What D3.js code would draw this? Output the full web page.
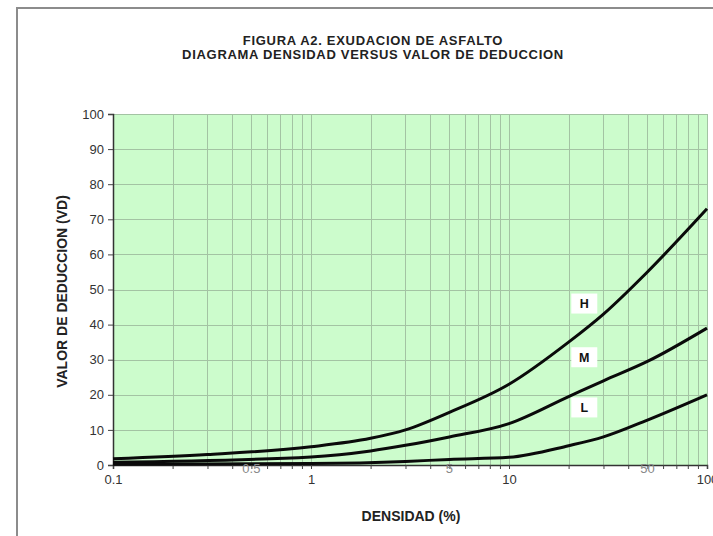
<!DOCTYPE html>
<html>
<head>
<meta charset="utf-8">
<script src="https://cdn.jsdelivr.net/npm/d3@7"></script>
<style>
  html, body { margin: 0; padding: 0; background: #fff; }
  svg { display: block; font-family: "Liberation Sans", Arial, sans-serif; }
</style>
</head>
<body>
<svg id="chart" width="713" height="536"></svg>
<script>
// Density (%) vs deduct value curves for high / medium / low severity
const densH = [0.1, 0.3, 1, 2, 3, 5, 10, 20, 30, 50, 100];
const valH  = [1.8, 3.0, 5.2, 7.6, 10, 15, 23, 35, 43, 55, 73];

const densM = [0.1, 1, 2, 3, 5, 10, 20, 30, 50, 100];
const valM  = [0.8, 2.3, 4, 5.6, 8, 11.8, 19.5, 24, 29.5, 39];

const densL = [0.1, 1, 3, 5, 10, 20, 30, 50, 100];
const valL  = [0.2, 0.4, 1, 1.6, 2.2, 5.5, 8, 12.8, 20];

const seriesNames = ["H", "M", "L"];
// where each severity tag sits (density, value)
const tagDens = [24, 24, 24];
const tagVal  = [46, 30.7, 16.4];

const yTicks = [0, 10, 20, 30, 40, 50, 60, 70, 80, 90, 100];
const xMajorTicks = [0.1, 1, 10, 100];
const xMidLabels = [0.5, 5, 50];

const titleLines = ["FIGURA A2. EXUDACION DE ASFALTO", "DIAGRAMA DENSIDAD VERSUS VALOR DE DEDUCCION"];
const yTitle = "VALOR DE DEDUCCION  (VD)";
const xTitle = "DENSIDAD  (%)";

const svg = d3.select("#chart");
const W = 713, H = 536;
const m = { left: 113, right: 6, top: 114, bottom: 71 };
const FONT = "'Liberation Sans', Arial, sans-serif";

// outer frame
svg.append("rect")
  .attr("x", 17).attr("y", 8)
  .attr("width", W + 20).attr("height", H + 20)
  .attr("fill", "none").attr("stroke", "#8c8c8c").attr("stroke-width", 2);

const x = d3.scaleLog().domain([0.1, 100]).range([m.left, W - m.right]);
const y = d3.scaleLinear().domain([0, 100]).range([H - m.bottom, m.top]);

// plot background
svg.append("rect")
  .attr("x", x(0.1)).attr("y", y(100))
  .attr("width", x(100) - x(0.1)).attr("height", y(0) - y(100))
  .attr("fill", "#ccfccc");

// grid lines
const logGrid = [];
[0.1, 1, 10].forEach(d => { for (let k = 1; k <= 10; k++) logGrid.push(+(d * k).toPrecision(3)); });
const gridX = [...new Set(logGrid)];
const grid = svg.append("g").attr("stroke", "#a3c3a3").attr("stroke-width", 1);
grid.selectAll("line.v").data(gridX).join("line")
  .attr("x1", d => Math.round(x(d)) + 0.5).attr("x2", d => Math.round(x(d)) + 0.5)
  .attr("y1", y(100)).attr("y2", y(0));
grid.selectAll("line.h").data(yTicks).join("line")
  .attr("x1", x(0.1)).attr("x2", x(100))
  .attr("y1", d => Math.round(y(d)) + 0.5).attr("y2", d => Math.round(y(d)) + 0.5);

// axes
const yAxis = svg.append("g")
  .attr("transform", `translate(${x(0.1)},0)`)
  .call(d3.axisLeft(y).tickValues(yTicks).tickSize(5).tickPadding(4));
yAxis.select(".domain").attr("stroke", "#333").attr("stroke-width", 1.5);
yAxis.selectAll(".tick line").attr("stroke", "#444");
yAxis.selectAll("text").attr("font-size", 13).attr("fill", "#333").attr("font-family", FONT);

const xAxis = svg.append("g")
  .attr("transform", `translate(0,${y(0)})`)
  .call(d3.axisBottom(x).tickValues(gridX).tickSize(4).tickPadding(6)
    .tickFormat(d => xMajorTicks.includes(d) ? String(d) : ""));
xAxis.select(".domain").attr("stroke", "#333").attr("stroke-width", 1.5);
xAxis.selectAll(".tick line").attr("stroke", "#444");
xAxis.selectAll("text").attr("font-size", 13).attr("fill", "#333").attr("font-family", FONT);

// curves
const line = d3.line()
  .x(d => x(d[0])).y(d => y(d[1]))
  .curve(d3.curveMonotoneX);
const curves = [
  d3.zip(densH, valH),
  d3.zip(densM, valM),
  d3.zip(densL, valL)
];
svg.append("g").selectAll("path").data(curves).join("path")
  .attr("d", line)
  .attr("fill", "none").attr("stroke", "#0a0a0a")
  .attr("stroke-width", 3).attr("stroke-linejoin", "round");

// mid-decade labels sitting on the axis
svg.append("g").selectAll("text").data(xMidLabels).join("text")
  .attr("x", d => x(d)).attr("y", y(0) + 8)
  .attr("text-anchor", "middle")
  .attr("font-size", 13).attr("fill", "#888")
  .text(d => d);

// severity tags
const tags = svg.append("g").selectAll("g").data(seriesNames).join("g")
  .attr("transform", (d, i) => `translate(${x(tagDens[i])},${y(tagVal[i])})`);
tags.append("rect")
  .attr("x", -13).attr("y", -10).attr("width", 26).attr("height", 20)
  .attr("fill", "#fff");
tags.append("text")
  .attr("text-anchor", "middle").attr("dy", "0.36em")
  .attr("font-size", 12.5).attr("font-weight", "bold").attr("fill", "#111")
  .text(d => d);

// titles
svg.append("g").selectAll("text").data(titleLines).join("text")
  .attr("x", 373).attr("y", (d, i) => 45 + i * 13.5)
  .attr("text-anchor", "middle")
  .attr("font-size", 13).attr("font-weight", "bold").attr("fill", "#222")
  .attr("letter-spacing", 0.7)
  .text(d => d);

svg.append("text")
  .attr("transform", `translate(62,${(y(0) + y(100)) / 2 + 2}) rotate(-90)`)
  .attr("text-anchor", "middle").attr("dy", "0.35em")
  .attr("font-size", 14).attr("font-weight", "bold").attr("fill", "#222")
  .text(yTitle);

svg.append("text")
  .attr("x", 411).attr("y", 521)
  .attr("text-anchor", "middle")
  .attr("font-size", 14).attr("font-weight", "bold").attr("fill", "#222")
  .text(xTitle);
</script>
</body>
</html>
